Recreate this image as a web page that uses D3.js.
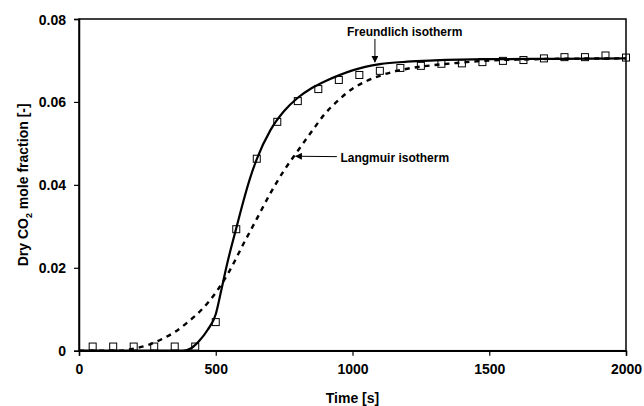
<!DOCTYPE html>
<html>
<head>
<meta charset="utf-8">
<script src="https://cdn.jsdelivr.net/npm/d3@7"></script>
<style>
  body { margin: 0; background: #fff; }
  svg { font-family: "Liberation Sans", Arial, sans-serif; font-weight: bold; }
</style>
</head>
<body>
<svg id="chart" width="644" height="406"></svg>
<script>
// measured breakthrough data (squares)
const expTime = [50, 125, 200, 275, 350, 425, 500, 575, 650, 725, 800, 875, 950, 1025, 1100,
                 1175, 1250, 1325, 1400, 1475, 1550, 1625, 1700, 1775, 1850, 1925, 2000];
const expFrac = [0.001, 0.001, 0.001, 0.001, 0.001, 0.001, 0.0069, 0.0293, 0.0463, 0.0552, 0.0602,
                 0.0631, 0.0653, 0.0665, 0.0675, 0.0682, 0.0687, 0.0692, 0.0693, 0.0696, 0.0699,
                 0.0701, 0.0705, 0.0708, 0.0708, 0.0712, 0.0707];

// model curves
const freundTime = [0, 350, 380, 410, 440, 470, 500, 520, 540, 560, 580, 600, 625, 650, 700, 750,
                    800, 850, 900, 950, 1000, 1100, 1200, 1300, 1500, 1750, 2000];
const freundFrac = [0, 0, 0, 0.0006, 0.0024, 0.005, 0.0088, 0.0145, 0.0205, 0.0258, 0.0308, 0.0358,
                    0.0415, 0.0462, 0.0532, 0.0578, 0.061, 0.0633, 0.065, 0.0664, 0.0676, 0.0691,
                    0.0697, 0.07, 0.0703, 0.0704, 0.0705];

const langTime = [0, 150, 200, 250, 300, 350, 400, 450, 500, 550, 600, 650, 700, 750, 800, 850, 900,
                  950, 1000, 1050, 1100, 1150, 1200, 1300, 1400, 1500, 1600, 1750, 2000];
const langFrac = [0, 0, 0.0005, 0.0013, 0.0027, 0.0045, 0.007, 0.01, 0.014, 0.0192, 0.0256, 0.0318,
                  0.038, 0.0435, 0.0482, 0.0528, 0.0572, 0.0605, 0.0632, 0.065, 0.0663, 0.0673,
                  0.068, 0.0689, 0.0695, 0.07, 0.0702, 0.0704, 0.0705];

const xTicks = [0, 500, 1000, 1500, 2000];
const yTicks = [0, 0.02, 0.04, 0.06, 0.08];
const yTickLabels = ["0", "0.02", "0.04", "0.06", "0.08"];

// annotations: [label, text t, text y, arrow tail t, tail y, tip t, tip y]
const annotations = [
  ["Freundlich isotherm", 980, 0.0759, 1082, 0.0752, 1082, 0.0696],
  ["Langmuir isotherm", 956, 0.0455, 943, 0.0468, 792, 0.0469]
];

const svg = d3.select('#chart');
const margin = {top: 19, right: 18, bottom: 55.3, left: 79};
const W = +svg.attr('width'), H = +svg.attr('height');

const x = d3.scaleLinear().domain([0, 2000]).range([margin.left, W - margin.right]);
const y = d3.scaleLinear().domain([0, 0.08]).range([H - margin.bottom, margin.top]);

svg.append('defs').append('marker')
   .attr('id', 'arrow')
   .attr('viewBox', '0 0 10 10')
   .attr('refX', 9).attr('refY', 5)
   .attr('markerWidth', 7).attr('markerHeight', 7)
   .attr('markerUnits', 'userSpaceOnUse')
   .attr('orient', 'auto')
   .append('path').attr('d', 'M0,0 L10,5 L0,10 Z').attr('fill', '#000');

// frame
svg.append('rect')
   .attr('x', x(0)).attr('y', y(0.08))
   .attr('width', x(2000) - x(0)).attr('height', y(0) - y(0.08))
   .attr('fill', 'none').attr('stroke', '#000').attr('stroke-width', 1.5);

const xAxis = svg.append('g')
   .attr('transform', `translate(0,${y(0)})`)
   .call(d3.axisBottom(x).tickValues(xTicks).tickFormat(d3.format('d')).tickSizeOuter(0).tickSize(5).tickPadding(8));
const yAxis = svg.append('g')
   .attr('transform', `translate(${x(0)},0)`)
   .call(d3.axisLeft(y).tickValues(yTicks).tickFormat((d, i) => yTickLabels[i]).tickSizeOuter(0).tickSize(5).tickPadding(8));

[xAxis, yAxis].forEach(ax => {
  ax.select('.domain').attr('stroke-width', 1.5);
  ax.selectAll('.tick line').attr('stroke-width', 1.2);
  ax.selectAll('.tick text')
    .attr('font-family', '"Liberation Sans", Arial, sans-serif')
    .attr('font-weight', 'bold').attr('font-size', 14).attr('fill', '#000');
});
yAxis.selectAll('.tick text').attr('dy', '0.36em');

// axis titles
svg.append('text')
   .attr('x', (x(0) + x(2000)) / 2).attr('y', 403)
   .attr('text-anchor', 'middle').attr('font-size', 14)
   .text('Time [s]');

const yTitle = svg.append('text')
   .attr('transform', `translate(28,${(y(0) + y(0.08)) / 2}) rotate(-90)`)
   .attr('text-anchor', 'middle').attr('font-size', 14);
yTitle.append('tspan').text('Dry CO');
yTitle.append('tspan').attr('font-size', 9).attr('dy', 4).text('2');
yTitle.append('tspan').attr('dy', -4).text(' mole fraction [-]');

// model lines
const line = d3.line()
   .curve(d3.curveMonotoneX)
   .x(d => x(d[0]))
   .y(d => y(d[1]));

svg.append('path')
   .datum(langTime.map((t, i) => [t, langFrac[i]]))
   .attr('d', line)
   .attr('fill', 'none').attr('stroke', '#000').attr('stroke-width', 2.4)
   .attr('stroke-dasharray', '5,5');

svg.append('path')
   .datum(freundTime.map((t, i) => [t, freundFrac[i]]))
   .attr('d', line)
   .attr('fill', 'none').attr('stroke', '#000').attr('stroke-width', 2.2);

// experimental squares
const sq = 7;
svg.append('g').selectAll('rect')
   .data(expTime.map((t, i) => [t, expFrac[i]]))
   .join('rect')
   .attr('x', d => x(d[0]) - sq / 2).attr('y', d => y(d[1]) - sq / 2)
   .attr('width', sq).attr('height', sq)
   .attr('fill', 'none').attr('stroke', '#000').attr('stroke-width', 1);

// annotations
annotations.forEach(([label, tx, ty, t0, v0, t1, v1]) => {
  svg.append('text')
     .attr('x', x(tx)).attr('y', y(ty))
     .attr('font-size', 12).text(label);
  svg.append('line')
     .attr('x1', x(t0)).attr('y1', y(v0))
     .attr('x2', x(t1)).attr('y2', y(v1))
     .attr('stroke', '#000').attr('stroke-width', 1)
     .attr('marker-end', 'url(#arrow)');
});
</script>
</body>
</html>
